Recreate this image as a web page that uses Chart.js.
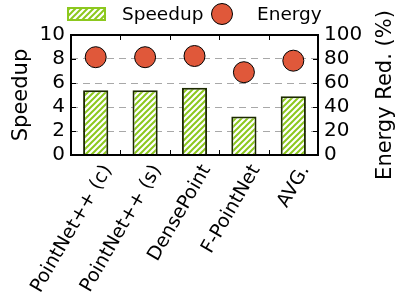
<!DOCTYPE html>
<html>
<head>
<meta charset="utf-8">
<script src="https://cdn.jsdelivr.net/npm/chart.js@4"></script>
<style>
  html, body { margin: 0; padding: 0; background: #fff; }
  #wrap { width: 399px; height: 299px; }
</style>
</head>
<body>
<div id="wrap"><canvas id="myChart" width="399" height="299"></canvas></div>
<script>
// données
const categories = ["PointNet++ (c)", "PointNet++ (s)", "DensePoint", "F-PointNet", "AVG."];
const speedup = [5.4, 5.4, 5.6, 3.2, 4.9];
const energy = [81.5, 81.5, 82.5, 69, 78.6];
const speedupTicks = [0, 2, 4, 6, 8, 10];
const energyTicks = [0, 20, 40, 60, 80, 100];

const FONT = "DejaVu Sans";
const GREEN = "#8cc81e";

// motif hachuré pour les barres
function makeHatch(bg) {
  const c = document.createElement("canvas");
  c.width = 6; c.height = 6;
  const g = c.getContext("2d");
  g.fillStyle = bg;
  g.fillRect(0, 0, 6, 6);
  g.strokeStyle = GREEN;
  g.lineWidth = 2;
  g.beginPath();
  g.moveTo(-1, 7); g.lineTo(7, -1);
  g.moveTo(-1, 1); g.lineTo(1, -1);
  g.moveTo(5, 7); g.lineTo(7, 5);
  g.stroke();
  return g.createPattern(c, "repeat");
}
const hatch = makeHatch("#ffffff");

// cadre, petits traits, titre de droite et légende
const framePlugin = {
  id: "frame",
  afterDatasetsDraw(chart) {
    const { ctx, chartArea: a, scales } = chart;
    ctx.save();
    ctx.strokeStyle = "#000";
    ctx.lineWidth = 1;
    // traits sur l'axe x (entre catégories)
    const x = scales.x;
    for (let i = 1; i < categories.length; i++) {
      const px = Math.round((x.getPixelForValue(i - 1) + x.getPixelForValue(i)) / 2) + 0.5;
      ctx.beginPath();
      ctx.moveTo(px, a.bottom); ctx.lineTo(px, a.bottom - 5);
      ctx.moveTo(px, a.top); ctx.lineTo(px, a.top + 5);
      ctx.stroke();
    }
    speedupTicks.forEach(v => {
      const py = Math.round(scales.y.getPixelForValue(v)) + 0.5;
      ctx.beginPath();
      ctx.moveTo(a.left, py); ctx.lineTo(a.left + 5, py);
      ctx.stroke();
    });
    energyTicks.forEach(v => {
      const py = Math.round(scales.y2.getPixelForValue(v)) + 0.5;
      ctx.beginPath();
      ctx.moveTo(a.right, py); ctx.lineTo(a.right - 5, py);
      ctx.stroke();
    });
    ctx.lineWidth = 2;
    ctx.strokeRect(a.left, a.top, a.right - a.left, a.bottom - a.top);

    // titre de l'axe de droite (lu de bas en haut)
    ctx.save();
    ctx.translate(386, (a.top + a.bottom) / 2);
    ctx.rotate(-Math.PI / 2);
    ctx.fillStyle = "#000";
    ctx.font = "21px '" + FONT + "'";
    ctx.textAlign = "center";
    ctx.textBaseline = "middle";
    ctx.fillText("Energy Red. (%)", 0, 0);
    ctx.restore();

    // légende
    const ds = chart.data.datasets;
    ctx.fillStyle = hatch;
    ctx.fillRect(67, 7, 39, 14);
    ctx.strokeStyle = GREEN;
    ctx.lineWidth = 2;
    ctx.strokeRect(68, 8, 37, 12);
    ctx.fillStyle = "#000";
    ctx.font = "18.5px '" + FONT + "'";
    ctx.textBaseline = "middle";
    ctx.textAlign = "left";
    ctx.fillText(ds[0].label, 122, 15);
    ctx.beginPath();
    ctx.arc(222, 14, 10.5, 0, Math.PI * 2);
    ctx.fillStyle = "#e0583a";
    ctx.fill();
    ctx.lineWidth = 1;
    ctx.strokeStyle = "#000";
    ctx.stroke();
    ctx.fillStyle = "#000";
    ctx.fillText(ds[1].label, 257, 15);
    ctx.restore();
  }
};

const data = {
  labels: categories,
  datasets: [
    {
      type: "bar",
      label: "Speedup",
      data: speedup,
      yAxisID: "y",
      backgroundColor: hatch,
      borderColor: "#1c2a00",
      borderWidth: 2,
      barPercentage: 0.51,
      categoryPercentage: 1,
      order: 2
    },
    {
      type: "line",
      label: "Energy",
      data: energy,
      yAxisID: "y2",
      showLine: false,
      pointRadius: 10.5,
      pointBackgroundColor: "#e0583a",
      pointBorderColor: "#000",
      pointBorderWidth: 1,
      order: 1
    }
  ]
};

const myChart = new Chart(document.getElementById("myChart"), {
  data,
  options: {
    responsive: false,
    animation: false,
    layout: { padding: { top: 35, left: 0, right: 0, bottom: 0 } },
    plugins: { legend: { display: false }, tooltip: { enabled: false } },
    scales: {
      x: {
        offset: true,
        grid: { display: false, drawTicks: false },
        border: { display: false },
        ticks: {
          color: "#000",
          font: { family: FONT, size: 19 },
          autoSkip: false,
          minRotation: 60,
          maxRotation: 60,
          padding: 6,
          labelOffset: 12
        },
        afterFit: s => { s.height = 144; }
      },
      y: {
        position: "left",
        min: 0, max: 10,
        afterBuildTicks: s => { s.ticks = speedupTicks.map(v => ({ value: v })); },
        grid: {
          drawTicks: false,
          color: c => (c.tick.value === 0 || c.tick.value === 10) ? "rgba(0,0,0,0)" : "#a8a8a8",
          lineWidth: 1
        },
        border: { display: false, dash: [7, 5] },
        ticks: { color: "#000", font: { family: FONT, size: 20 }, padding: 6, autoSkip: false },
        title: { display: true, text: "Speedup", color: "#000", font: { family: FONT, size: 21 }, padding: { top: 9 } },
        afterFit: s => { s.width = 71; }
      },
      y2: {
        position: "right",
        min: 0, max: 100,
        afterBuildTicks: s => { s.ticks = energyTicks.map(v => ({ value: v })); },
        grid: { display: false, drawTicks: false },
        border: { display: false },
        ticks: { color: "#000", font: { family: FONT, size: 20 }, padding: 6, autoSkip: false },
        afterFit: s => { s.width = 81; }
      }
    }
  },
  plugins: [framePlugin]
});
</script>
</body>
</html>
